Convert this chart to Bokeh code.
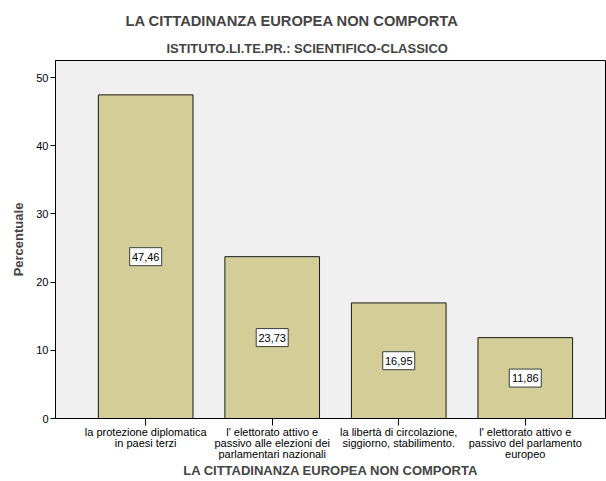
from bokeh.plotting import figure
from bokeh.models import ColumnDataSource, FixedTicker, Title, Range1d
from bokeh.core.properties import value
from bokeh.embed import file_html
from bokeh.resources import INLINE

# ---- data ----
categories = [
    "la protezione diplomatica\nin paesi terzi",
    "l' elettorato attivo e\npassivo alle elezioni dei\nparlamentari nazionali",
    "la libertà di circolazione,\nsiggiorno, stabilimento.",
    "l' elettorato attivo e\npassivo del parlamento\neuropeo",
]
percent = [47.46, 23.73, 16.95, 11.86]
y_ticks = [0, 10, 20, 30, 40, 50]

title_text = "LA CITTADINANZA EUROPEA NON COMPORTA"
subtitle_text = "ISTITUTO.LI.TE.PR.: SCIENTIFICO-CLASSICO"
x_title = "LA CITTADINANZA EUROPEA NON COMPORTA"
y_title = "Percentuale"

FONT = "Liberation Sans"

xs = list(range(len(categories)))
src = ColumnDataSource(dict(
    x=xs,
    top=percent,
    mid=[v / 2 for v in percent],
    lab=[f"{v:.2f}".replace(".", ",") for v in percent],
))

p = figure(width=606, height=481, output_backend="svg", toolbar_location=None,
           x_range=Range1d(-0.7126, 3.642), y_range=Range1d(0, 52.5),
           min_border_left=55, min_border_right=0, min_border_top=60, min_border_bottom=63)

p.background_fill_color = "#F0F0F0"
p.border_fill_color = "white"
p.outline_line_color = "black"
p.outline_line_width = 1
p.xgrid.visible = False
p.ygrid.visible = False

# titles (main on top, subtitle closer to the plot)
p.title.text = title_text
p.title.text_font = FONT
p.title.text_font_size = "14.7px"
p.title.text_font_style = "bold"
p.title.align = "left"
p.title.offset = 70
p.title.standoff = 12
sub = Title(text=subtitle_text, text_font=FONT, text_font_size="13px",
            text_font_style="bold", align="left", offset=111, standoff=9)
p.add_layout(sub, "above")

# bars
p.vbar(x="x", top="top", bottom=0, width=0.748, source=src,
       fill_color="#D3CE97", line_color="#1a1a1a", line_width=1)

# value labels with white boxes
p.rect(x="x", y="mid", width=32, height=18, width_units="screen", height_units="screen",
       source=src, fill_color="white", line_color="#3c3c3c", line_width=1)
p.text(x="x", y="mid", text="lab", source=src, text_align="center", text_baseline="middle",
       text_font=value(FONT), text_font_size="11px", text_color="black")

# y axis
p.yaxis.ticker = FixedTicker(ticks=y_ticks)
p.yaxis.minor_tick_line_color = None
p.yaxis.major_tick_in = 0
p.yaxis.major_tick_out = 5
p.yaxis.major_label_standoff = 2
p.yaxis.major_label_text_font = FONT
p.yaxis.major_label_text_font_size = "11px"
p.yaxis.major_label_text_color = "black"
p.yaxis.axis_line_color = "black"
p.yaxis.major_tick_line_color = "black"
p.yaxis.axis_label = y_title
p.yaxis.axis_label_text_font = FONT
p.yaxis.axis_label_text_font_size = "13px"
p.yaxis.axis_label_text_font_style = "bold"
p.yaxis.axis_label_standoff = 7

# x axis
p.xaxis.ticker = FixedTicker(ticks=xs)
p.xaxis.major_label_overrides = {i: c for i, c in zip(xs, categories)}
p.xaxis.minor_tick_line_color = None
p.xaxis.major_tick_in = 0
p.xaxis.major_tick_out = 7
p.xaxis.major_label_standoff = 0
p.xaxis.major_label_text_font = FONT
p.xaxis.major_label_text_font_size = "11px"
p.xaxis.major_label_text_color = "black"
p.xaxis.major_label_text_line_height = 0.95
p.xaxis.axis_line_color = "black"
p.xaxis.major_tick_line_color = "black"
p.xaxis.axis_label = x_title
p.xaxis.axis_label_text_font = FONT
p.xaxis.axis_label_text_font_size = "13px"
p.xaxis.axis_label_text_font_style = "bold"
p.xaxis.axis_label_standoff = 0

open("out.html", "w").write(file_html(p, INLINE))
